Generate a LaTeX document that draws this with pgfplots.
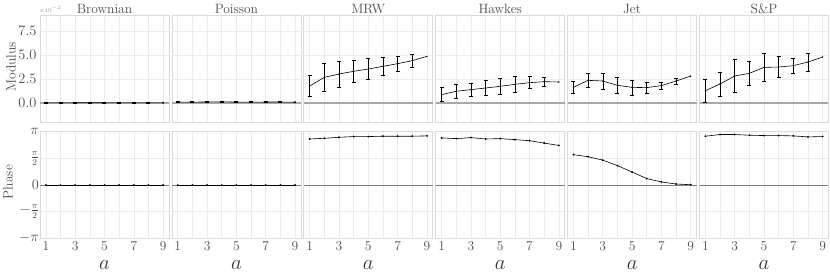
\documentclass[border=0pt]{standalone}
\usepackage{pgfplots}
\usepackage{pgfplotstable}
\pgfplotsset{compat=1.18}
\definecolor{gridc}{HTML}{EBEBEB}
\definecolor{borderc}{HTML}{DADADA}
\definecolor{txtc}{HTML}{4D4D4D}
\definecolor{zeroT}{HTML}{A8A8A8}
\definecolor{zeroB}{HTML}{7F7F7F}

\pgfplotstableread{
x y e
1 0.02 0.08
2 0.02 0.08
3 0.02 0.08
4 0.03 0.08
5 0.02 0.08
6 0.02 0.08
7 0.02 0.08
8 0.02 0.08
9 0.02 0
}\modBrown
\pgfplotstableread{
x y e
1 0.10 0.06
2 0.09 0.06
3 0.11 0.06
4 0.12 0.06
5 0.10 0.06
6 0.09 0.06
7 0.10 0.06
8 0.10 0.06
9 0.08 0
}\modPois
\pgfplotstableread{
x y e
1 1.77 1.08
2 2.67 1.50
3 3.02 1.37
4 3.30 1.18
5 3.54 1.08
6 3.82 0.90
7 4.10 0.78
8 4.41 0.68
9 4.86 0
}\modMRW
\pgfplotstableread{
x y e
1 0.87 0.73
2 1.22 0.76
3 1.39 0.70
4 1.56 0.78
5 1.74 0.83
6 1.94 0.83
7 2.12 0.62
8 2.22 0.47
9 2.19 0
}\modHawk
\pgfplotstableread{
x y e
1 1.63 0.66
2 2.36 0.77
3 2.29 0.83
4 1.84 0.85
5 1.63 0.78
6 1.60 0.59
7 1.81 0.39
8 2.29 0.31
9 2.81 0
}\modJet
\pgfplotstableread{
x y e
1 1.28 1.21
2 1.98 1.24
3 2.81 1.70
4 3.09 1.23
5 3.71 1.45
6 3.75 1.10
7 3.89 0.76
8 4.27 0.92
9 4.79 0
}\modSP

\pgfplotstableread{
x y
1 0
2 0
3 0
4 0
5 0
6 0
7 0
8 0
9 0
}\phZero
\pgfplotstableread{
x y
1 2.717
2 2.758
3 2.818
4 2.859
5 2.859
6 2.881
7 2.881
8 2.881
9 2.900
}\phMRW
\pgfplotstableread{
x y
1 2.780
2 2.739
3 2.799
4 2.717
5 2.739
6 2.680
7 2.617
8 2.476
9 2.337
}\phHawk
\pgfplotstableread{
x y
1 1.794
2 1.671
3 1.470
4 1.147
5 0.767
6 0.383
7 0.182
8 0.060
9 0.019
}\phJet
\pgfplotstableread{
x y
1 2.881
2 2.981
3 2.981
4 2.941
5 2.919
6 2.919
7 2.900
8 2.840
9 2.859
}\phSP

\pgfplotsset{
  panel/.style={scale only axis, width=129pt, xmin=0.6, xmax=9.4,
    xtick={1,3,5,7,9}, minor xtick={2,4,6,8}, grid=both,
    major grid style={draw=gridc, line width=0.6pt},
    minor grid style={draw=gridc, line width=0.6pt},
    axis line style={draw=borderc, line width=0.7pt},
    major tick length=0pt, minor tick length=0pt,
    yticklabels={},
    ticklabel style={font=\fontsize{13.5}{15}\selectfont, text=txtc},
    anchor=south west, clip=false},
  top/.style={panel, height=107pt, ymin=-1.98, ymax=9.17, ytick={0,2.5,5,7.5}, xticklabels={}},
  bot/.style={panel, height=106.5pt, ymin=-3.14159, ymax=3.14159,
    ytick={-3.14159,-1.5708,0,1.5708,3.14159}, xticklabels={1,3,5,7,9},
    yticklabel style={inner sep=1pt}},
  dline/.style={black, line width=0.6pt, mark=*, mark size=0.6pt},
  ebar/.style={only marks, mark=*, mark size=0pt, mark options={draw=none, fill=none},
    error bars/y dir=both, error bars/y explicit,
    error bars/error bar style={draw=black, line width=0.55pt},
    error bars/error mark options={draw=black, rotate=90, mark size=2pt, line width=0.55pt}},
}

\begin{document}
\begin{tikzpicture}[x=1pt,y=1pt]
\useasboundingbox (0,0) rectangle (830,275);

% ---------- Modulus row ----------
\begin{axis}[top, at={(40pt,153pt)}, yticklabels={$0.0$,$2.5$,$5.0$,$7.5$}]
\addplot[zeroT, line width=1.1pt, forget plot] coordinates {(0.6,0) (9.4,0)};
\addplot[skip coords between index={8}{9}, ebar] table[x=x,y=y,y error=e] {\modBrown};
\addplot[dline] table[x=x,y=y] {\modBrown};
\end{axis}
\begin{axis}[top, at={(171.9pt,153pt)}]
\addplot[zeroT, line width=1.1pt, forget plot] coordinates {(0.6,0) (9.4,0)};
\addplot[skip coords between index={8}{9}, ebar] table[x=x,y=y,y error=e] {\modPois};
\addplot[dline] table[x=x,y=y] {\modPois};
\end{axis}
\begin{axis}[top, at={(303.8pt,153pt)}]
\addplot[zeroT, line width=1.1pt, forget plot] coordinates {(0.6,0) (9.4,0)};
\addplot[skip coords between index={8}{9}, ebar] table[x=x,y=y,y error=e] {\modMRW};
\addplot[dline, mark size=0.3pt] table[x=x,y=y] {\modMRW};
\end{axis}
\begin{axis}[top, at={(435.7pt,153pt)}]
\addplot[zeroT, line width=1.1pt, forget plot] coordinates {(0.6,0) (9.4,0)};
\addplot[skip coords between index={8}{9}, ebar] table[x=x,y=y,y error=e] {\modHawk};
\addplot[dline, mark size=0.3pt] table[x=x,y=y] {\modHawk};
\end{axis}
\begin{axis}[top, at={(567.6pt,153pt)}]
\addplot[zeroT, line width=1.1pt, forget plot] coordinates {(0.6,0) (9.4,0)};
\addplot[skip coords between index={8}{9}, ebar] table[x=x,y=y,y error=e] {\modJet};
\addplot[dline, mark size=0.3pt] table[x=x,y=y] {\modJet};
\end{axis}
\begin{axis}[top, at={(699.5pt,153pt)}]
\addplot[zeroT, line width=1.1pt, forget plot] coordinates {(0.6,0) (9.4,0)};
\addplot[skip coords between index={8}{9}, ebar] table[x=x,y=y,y error=e] {\modSP};
\addplot[dline, mark size=0.3pt] table[x=x,y=y] {\modSP};
\end{axis}

% ---------- Phase row ----------
\begin{axis}[bot, at={(40pt,36.7pt)}, yticklabels={$-\pi$,$-\frac{\pi}{2}$,$0$,$\frac{\pi}{2}$,$\pi$}]
\addplot[zeroB, line width=0.6pt, forget plot] coordinates {(0.6,0) (9.4,0)};
\addplot[dline] table[x=x,y=y] {\phZero};
\end{axis}
\begin{axis}[bot, at={(171.9pt,36.7pt)}]
\addplot[zeroB, line width=0.6pt, forget plot] coordinates {(0.6,0) (9.4,0)};
\addplot[dline] table[x=x,y=y] {\phZero};
\end{axis}
\begin{axis}[bot, at={(303.8pt,36.7pt)}]
\addplot[zeroB, line width=0.6pt, forget plot] coordinates {(0.6,0) (9.4,0)};
\addplot[dline] table[x=x,y=y] {\phMRW};
\end{axis}
\begin{axis}[bot, at={(435.7pt,36.7pt)}]
\addplot[zeroB, line width=0.6pt, forget plot] coordinates {(0.6,0) (9.4,0)};
\addplot[dline] table[x=x,y=y] {\phHawk};
\end{axis}
\begin{axis}[bot, at={(567.6pt,36.7pt)}]
\addplot[zeroB, line width=0.6pt, forget plot] coordinates {(0.6,0) (9.4,0)};
\addplot[dline] table[x=x,y=y] {\phJet};
\end{axis}
\begin{axis}[bot, at={(699.5pt,36.7pt)}]
\addplot[zeroB, line width=0.6pt, forget plot] coordinates {(0.6,0) (9.4,0)};
\addplot[dline] table[x=x,y=y] {\phSP};
\end{axis}

% ---------- titles and labels ----------
\foreach \cx/\t in {104.5/Brownian, 236.4/Poisson, 368.3/MRW, 500.2/Hawkes, 632.1/Jet, 764/S\&P}{
  \node[anchor=base, inner sep=0pt, font=\fontsize{13.5}{15}\selectfont, text=txtc] at (\cx, 261.7) {\t};
  \node[inner sep=0pt, font=\fontsize{21}{23}\selectfont, text=txtc!70!black] at (\cx, 10) {$a$};
}
\node[inner sep=0pt, font=\fontsize{6.5}{7}\selectfont, text=txtc!60] at (50, 265) {$\times10^{-2}$};
\node[rotate=90, inner sep=0pt, font=\fontsize{13.5}{15}\selectfont, text=txtc] at (11, 208) {Modulus};
\node[rotate=90, inner sep=0pt, font=\fontsize{13.5}{15}\selectfont, text=txtc] at (8, 93) {Phase};
\end{tikzpicture}
\end{document}
